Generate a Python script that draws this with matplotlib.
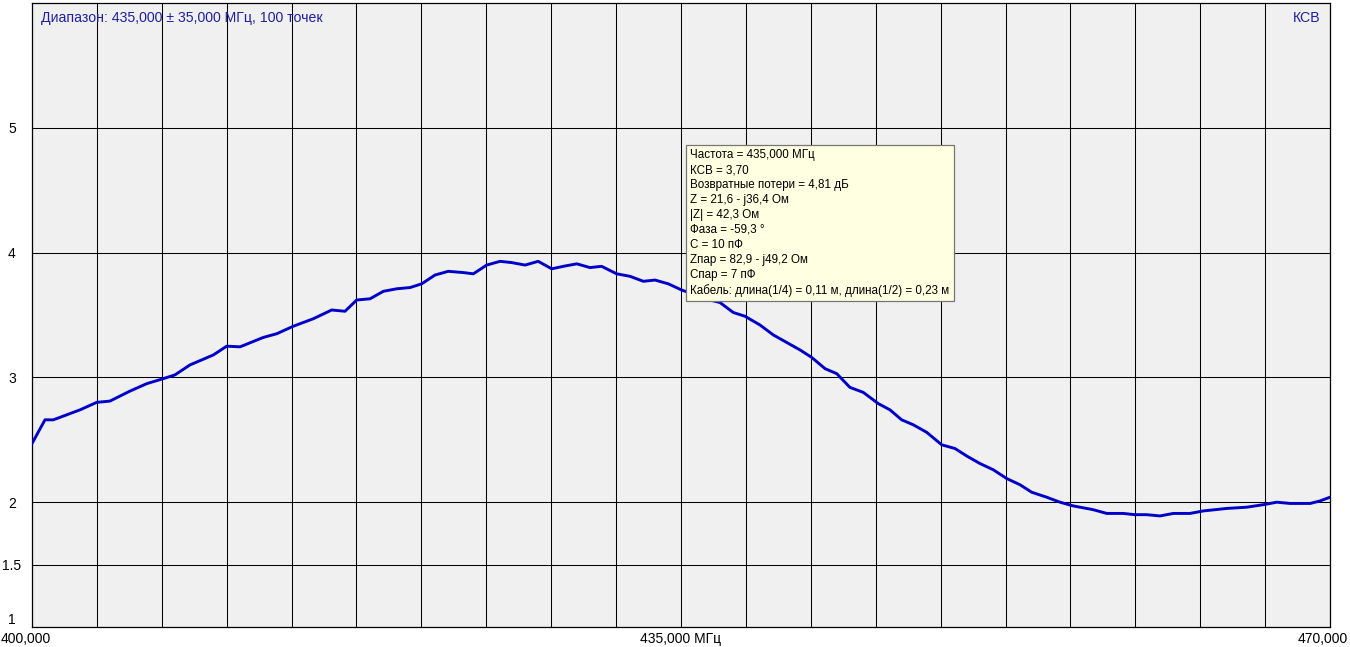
import matplotlib
matplotlib.use("Agg")
import matplotlib.pyplot as plt
import matplotlib.transforms as mtrans
import numpy as np

plt.rcParams['font.family'] = ['Liberation Sans', 'DejaVu Sans']

# ---- data ----
freq_mhz = [400.0, 400.7, 401.15, 401.69, 402.59, 403.49, 404.20, 405.28, 406.19, 407.08,
            407.71, 408.52, 409.78, 410.50, 411.22, 412.47, 413.20, 414.09, 415.17, 416.16,
            416.88, 417.51, 418.23, 418.95, 419.67, 420.39, 421.02, 421.73, 422.45, 423.26,
            423.80, 424.52, 425.24, 425.87, 426.59, 427.30, 428.03, 428.65, 429.38, 430.09,
            430.72, 431.53, 432.25, 432.97, 433.60, 434.31, 435.04, 435.80, 436.56, 437.10,
            437.82, 438.45, 439.26, 439.98, 440.70, 441.42, 442.05, 442.77, 443.40, 444.11,
            444.83, 445.64, 446.27, 446.90, 447.53, 448.25, 449.06, 449.78, 450.41, 451.12,
            451.84, 452.56, 453.28, 453.91, 454.72, 455.44, 456.16, 457.23, 457.96, 458.85,
            459.48, 460.11, 460.83, 461.55, 462.45, 463.17, 464.43, 465.51, 466.40, 467.13,
            467.85, 468.93, 469.46, 470.0]
vswr = [2.47, 2.66, 2.66, 2.69, 2.74, 2.80, 2.81, 2.89, 2.95, 2.99,
        3.02, 3.10, 3.18, 3.25, 3.245, 3.32, 3.35, 3.41, 3.47, 3.54,
        3.53, 3.62, 3.63, 3.69, 3.71, 3.72, 3.75, 3.82, 3.85, 3.84,
        3.83, 3.90, 3.93, 3.92, 3.90, 3.93, 3.87, 3.89, 3.91, 3.88,
        3.89, 3.83, 3.81, 3.77, 3.78, 3.75, 3.70, 3.66, 3.62, 3.60,
        3.52, 3.49, 3.42, 3.34, 3.28, 3.22, 3.16, 3.07, 3.03, 2.92,
        2.88, 2.79, 2.74, 2.66, 2.62, 2.56, 2.46, 2.43, 2.37, 2.31,
        2.26, 2.19, 2.14, 2.08, 2.04, 2.00, 1.97, 1.94, 1.91, 1.91,
        1.90, 1.90, 1.89, 1.91, 1.91, 1.93, 1.95, 1.96, 1.98, 2.00,
        1.99, 1.99, 2.01, 2.04]

y_ticks = [1, 1.5, 2, 3, 4, 5]
y_tick_labels = ["1", "1.5", "2", "3", "4", "5"]
x_label_vals = [400.0, 435.0, 470.0]
x_label_texts = ["400,000", "435,000 МГц", "470,000"]
title_text = "Диапазон: 435,000 ± 35,000 МГц, 100 точек"
right_text = "КСВ"
cursor_freq = 435.0
cursor_vswr = 3.70
tooltip_lines = [
    "Частота = 435,000 МГц",
    "КСВ = 3,70",
    "Возвратные потери = 4,81 дБ",
    "Z = 21,6 - j36,4 Ом",
    "|Z| = 42,3 Ом",
    "Фаза = -59,3 °",
    "C = 10 пФ",
    "Zпар = 82,9 - j49,2 Ом",
    "Cпар = 7 пФ",
    "Кабель: длина(1/4) = 0,11 м, длина(1/2) = 0,23 м",
]

W, H = 1350, 647
fig = plt.figure(figsize=(W / 100, H / 100), dpi=100)
fig.patch.set_facecolor("white")
ax = fig.add_axes([32 / W, (H - 627) / H, 1298 / W, 624 / H])
ax.set_facecolor("#F0F0F0")

ax.plot(freq_mhz, vswr, color="#0000C8", lw=2.1, solid_joinstyle="round", zorder=3)

ax.set_xlim(400, 470)
ax.set_ylim(1, 6)

ax.set_xticks(np.arange(400, 470.01, 3.5))
ax.set_xticklabels([])
ax.set_yticks(y_ticks)
ax.set_yticklabels(y_tick_labels, fontsize=10, ha="center")
ax.tick_params(axis="both", length=0)
ax.tick_params(axis="y", pad=14.4)
ax.get_yticklabels()[0].set_va("bottom")

ax.grid(True, color="black", lw=0.75, zorder=1)
ax.set_axisbelow(True)
for s in ax.spines.values():
    s.set_color("black")
    s.set_linewidth(0.9)

# x labels
blend = mtrans.blended_transform_factory(ax.transData, ax.transAxes)
offsets = [(-31, "left"), (0, "center"), (18, "right")]
for v, t, (dx, ha) in zip(x_label_vals, x_label_texts, offsets):
    ax.annotate(t, xy=(v, 0), xycoords=blend, xytext=(dx, -5), textcoords="offset pixels",
                ha=ha, va="top", fontsize=10, color="black", annotation_clip=False)

ax.annotate(title_text, xy=(0, 1), xycoords="axes fraction", xytext=(9, -8),
            textcoords="offset pixels", ha="left", va="top", fontsize=10.2, color="#1F1FA0")
ax.annotate(right_text, xy=(1, 1), xycoords="axes fraction", xytext=(-9, -8),
            textcoords="offset pixels", ha="right", va="top", fontsize=10.2, color="#1F1FA0")

# tooltip
ax.annotate("\n".join(tooltip_lines), xy=(cursor_freq, cursor_vswr), xycoords="data",
            xytext=(9.5, 141), textcoords="offset pixels", ha="left", va="top",
            fontsize=8.4, linespacing=1.33, color="black", zorder=10,
            bbox=dict(boxstyle="square,pad=0.35", fc="#FFFFE1", ec="#767676", lw=0.9))

fig.savefig("out.png", dpi=100)
